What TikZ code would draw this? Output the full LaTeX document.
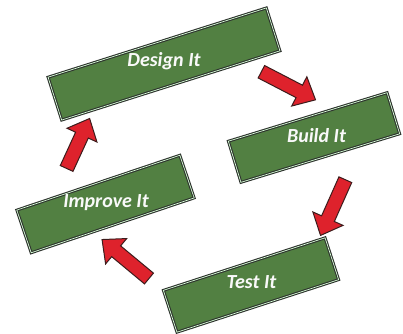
\documentclass[tikz,border=0pt]{standalone}
\usepackage{fontspec}
\setmainfont{Carlito}
\usetikzlibrary{shapes.arrows}
\definecolor{boxgreen}{RGB}{82,128,66}
\definecolor{boxedge}{RGB}{45,50,45}
\definecolor{arrred}{RGB}{222,34,44}
\definecolor{arredge}{RGB}{60,28,28}
\tikzset{
  stepbox/.style={rectangle, fill=boxgreen, draw=boxedge, line width=1.1pt,
    double=white!85!green, double distance=0.7pt, inner sep=0pt},
  lbl/.style={text=white!95!gray, font=\fontsize{20}{20}\selectfont\bfseries\itshape,
    inner sep=0pt, anchor=base},
  blockarrow/.style={single arrow, fill=arrred, draw=arredge, line width=1pt,
    inner sep=0pt, minimum width=32pt, single arrow head extend=9.5pt,
    single arrow tip angle=84, text height=13pt, text depth=0pt, text width=0pt},
}
\begin{document}
\begin{tikzpicture}[x=1pt,y=-1pt]
\useasboundingbox (0,0) rectangle (403,333);
% boxes
\node[stepbox, minimum width=229pt, minimum height=45pt, rotate=17.6] (design) at (164,64) {};
\node[stepbox, minimum width=166pt, minimum height=43pt, rotate=17] (build) at (314,137.5) {};
\node[stepbox, minimum width=172pt, minimum height=45pt, rotate=18.6] (improve) at (105.5,204) {};
\node[stepbox, minimum width=170pt, minimum height=44pt, rotate=18] (test) at (251,285) {};
% labels
\node[lbl] (designt) at (164,66) {Design It};
\node[lbl] (buildt) at (316.5,142) {Build It};
\node[lbl] (improvet) at (106,207) {Improve It};
\node[lbl] (testt) at (251.5,288) {Test It};
% arrows
\node[blockarrow, minimum height=61pt, rotate=-27.4] (a1) at (285,84) {};
\node[blockarrow, minimum height=61pt, rotate=-114] (a2) at (334.5,204) {};
\node[blockarrow, minimum height=61pt, rotate=140.3] (a3) at (128.5,261.5) {};
\node[blockarrow, minimum height=55pt, rotate=65.3] (a4) at (76.5,147) {};
\end{tikzpicture}
\end{document}
